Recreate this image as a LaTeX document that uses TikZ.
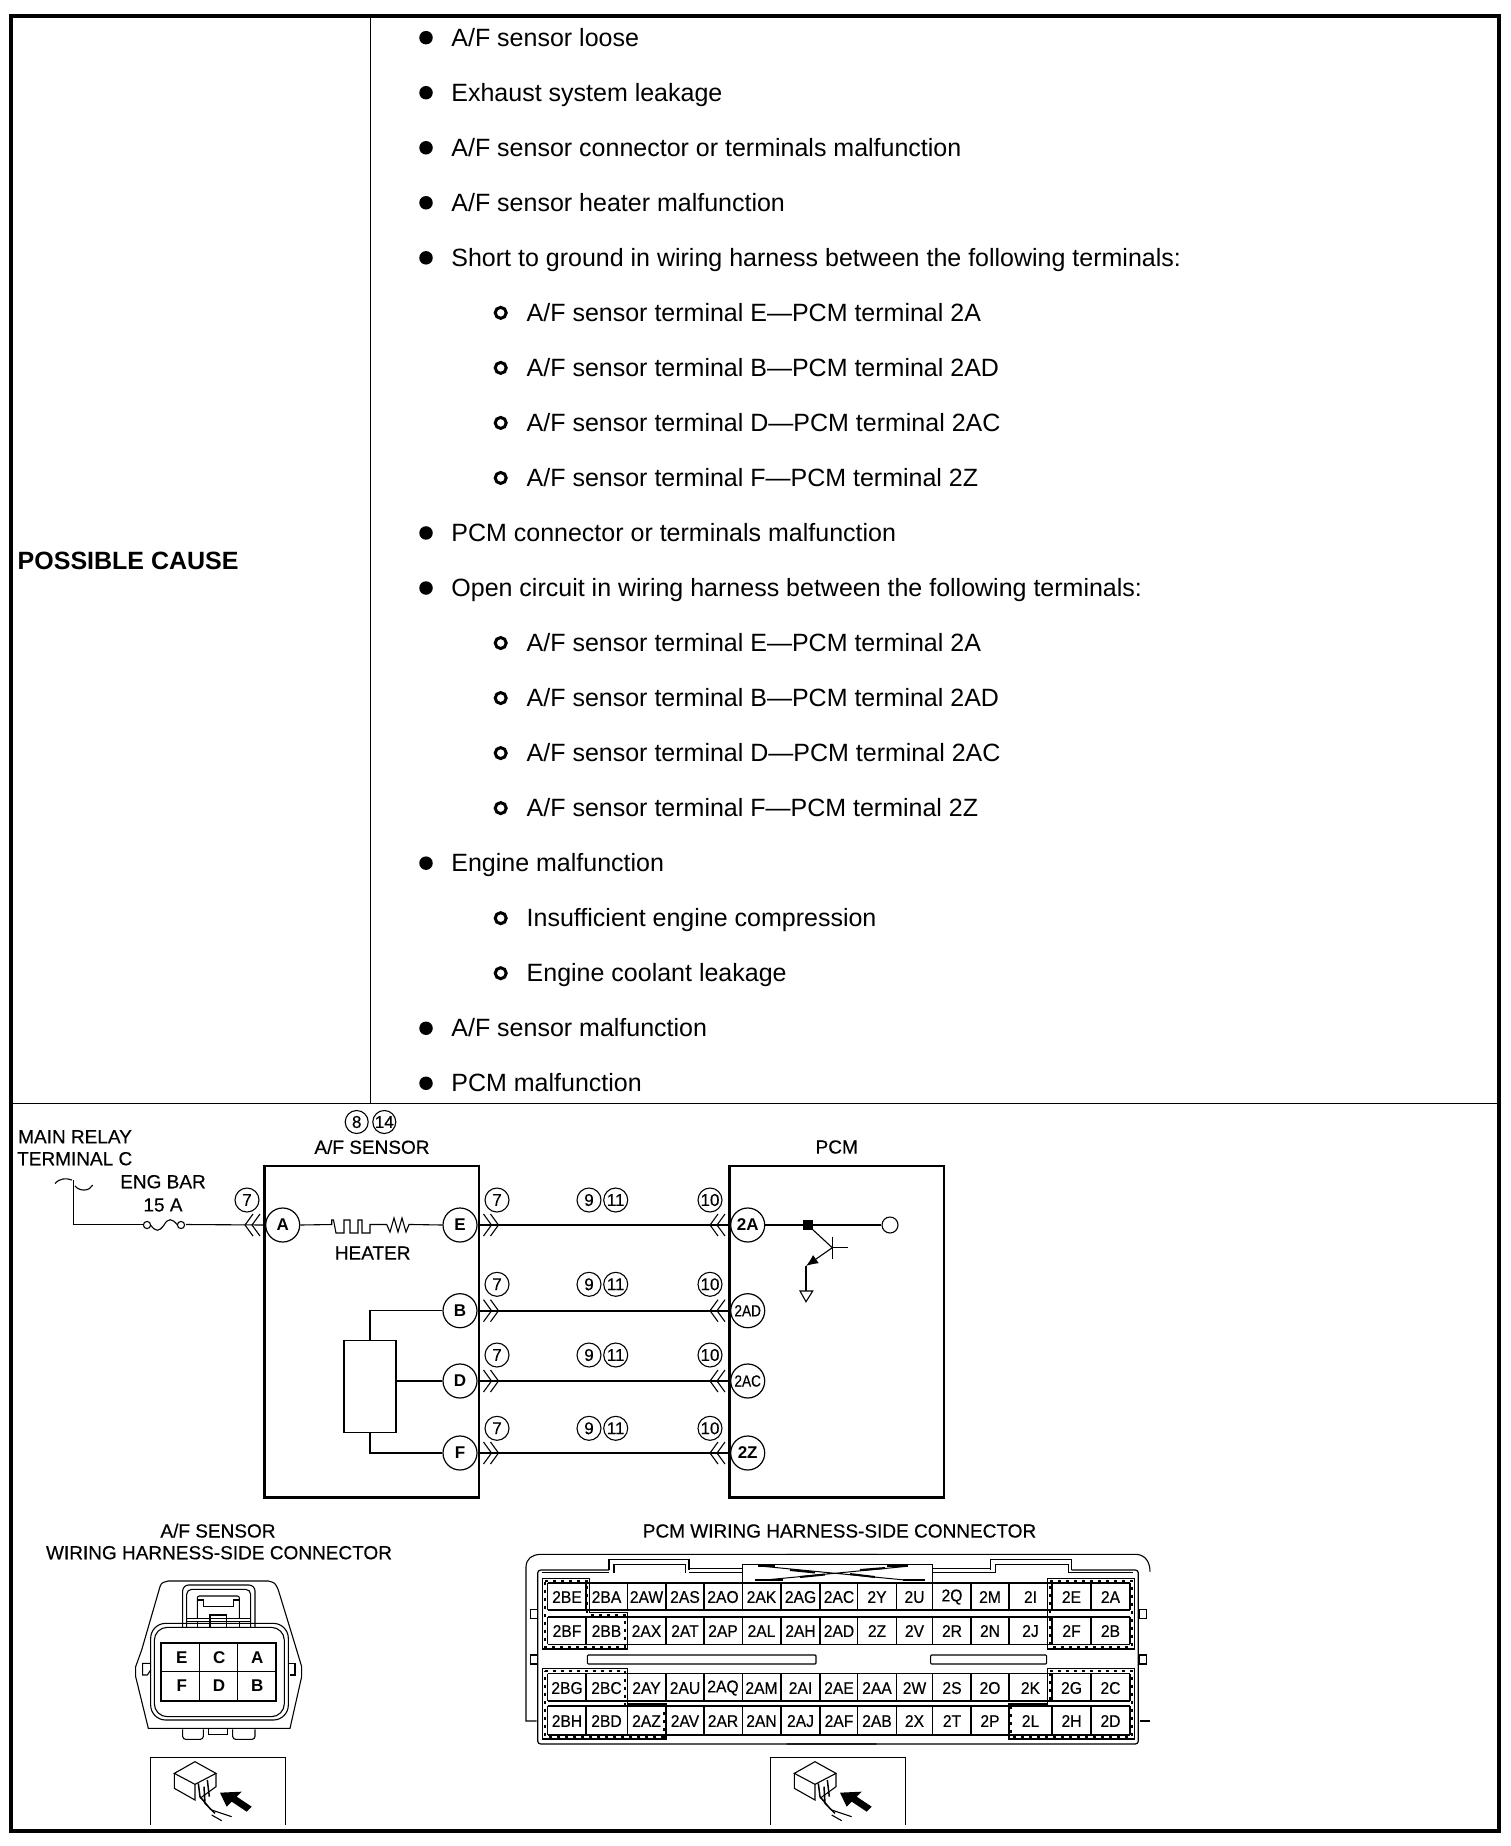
\documentclass[tikz,border=0pt]{standalone}
\usepackage{fontspec}
\setmainfont{Liberation Sans}
\newfontfamily\blurf[FakeBold=0.4]{Liberation Sans}
\usetikzlibrary{arrows.meta}
\newcommand{\fs}[1]{\fontsize{#1}{#1}\selectfont}
\newcommand{\AF}{A/F}
\newcommand{\chevL}[2]{\draw[wire] (#1+8,#2-11)--(#1,#2)--(#1+8,#2+11) (#1+15,#2-11)--(#1+7,#2)--(#1+15,#2+11);}
\newcommand{\chevR}[2]{\draw[wire] (#1-8,#2-11)--(#1,#2)--(#1-8,#2+11) (#1-15,#2-11)--(#1-7,#2)--(#1-15,#2+11);}
\tikzset{
  x=1pt,y=-1pt,
  frameline/.style={line width=4pt,black},
  rule/.style={line width=1pt,black},
  lbl/.style={anchor=base west,inner sep=0,font=\fs{25}},
  dotb/.style={circle,fill=black,inner sep=0,minimum size=13.5pt},
  ring/.style={circle,draw=black,line width=3pt,inner sep=0,minimum size=11pt},
  boxl/.style={line width=2.6pt,black},
  wire/.style={line width=1.1pt,black},
  hwire/.style={line width=1.7pt,black},
  pinc/.style={circle,draw=black,line width=1.2pt,inner sep=0,minimum size=34pt,fill=white,font=\fs{17}\bfseries},
  numc/.style={circle,draw=black,line width=1.1pt,inner sep=0,minimum size=24pt,fill=white,font=\fs{17}\blurf},
  captxt/.style={inner sep=0,font=\fs{19}\blurf},
  cell/.style={inner sep=0,font=\fs{17}\blurf,xscale=.92},
  zA/.style={x=.33333pt,y=-.33333pt,shift={(120pt,-1520pt)},line width=1.1pt},
  zB/.style={x=.33333pt,y=-.33333pt,shift={(510pt,-1520pt)},line width=1.1pt},
  zC/.style={x=.33333pt,y=-.33333pt,shift={(820pt,-1520pt)},line width=1.1pt},
  hatchA/.style={line width=2pt,dash pattern=on 3pt off 5pt},
  hatchB/.style={line width=1.3pt},
}
\begin{document}
\begin{tikzpicture}
\useasboundingbox (0,0) rectangle (1510,1846);
\fill[white] (0,0) rectangle (1510,1846);
% table
\draw[frameline] (10.7,16) rectangle (1499,1831);
\draw[rule] (370.5,16)--(370.5,1103.4);
\draw[rule] (10.7,1103.4)--(1499,1103.4);
\node[anchor=base west,inner sep=0,font=\fs{25}\bfseries] (pc) at (17.5,569.5) {POSSIBLE CAUSE};
% list
\foreach \n/\k/\t in {
 0/0/\AF{} sensor loose,
 1/0/Exhaust system leakage,
 2/0/\AF{} sensor connector or terminals malfunction,
 3/0/\AF{} sensor heater malfunction,
 4/0/Short to ground in wiring harness between the following terminals:,
 5/1/\AF{} sensor terminal E—PCM terminal 2A,
 6/1/\AF{} sensor terminal B—PCM terminal 2AD,
 7/1/\AF{} sensor terminal D—PCM terminal 2AC,
 8/1/\AF{} sensor terminal F—PCM terminal 2Z,
 9/0/PCM connector or terminals malfunction,
 10/0/Open circuit in wiring harness between the following terminals:,
 11/1/\AF{} sensor terminal E—PCM terminal 2A,
 12/1/\AF{} sensor terminal B—PCM terminal 2AD,
 13/1/\AF{} sensor terminal D—PCM terminal 2AC,
 14/1/\AF{} sensor terminal F—PCM terminal 2Z,
 15/0/Engine malfunction,
 16/1/Insufficient engine compression,
 17/1/Engine coolant leakage,
 18/0/\AF{} sensor malfunction,
 19/0/PCM malfunction}{
 \pgfmathsetmacro{\yy}{37.7+55.03*\n}
 \ifnum\k=0
   \node[dotb] (b\n) at (426,\yy) {};
   \node[lbl] (t\n) at (451.2,\yy+8.5) {\t};
 \else
   \node[ring] (b\n) at (500.7,\yy) {};
   \node[lbl] (t\n) at (526.5,\yy+8.5) {\t};
 \fi
}
% schematic boxes
\draw[boxl] (264.7,1166) rectangle (479,1497.7);
\draw[boxl] (729.3,1166) rectangle (944,1497.7);
\node[captxt] (afcap) at (372,1147) {A/F SENSOR};
\node[captxt] (pcmcap) at (836.7,1147) {PCM};
\node[numc,minimum size=23pt] (n8) at (356.7,1122) {8};
\node[numc,minimum size=23pt] (n14) at (384.3,1122) {14};
\node[captxt,anchor=west] (mr) at (18,1136.7) {MAIN RELAY};
\node[captxt,anchor=west] (tc) at (17,1158.7) {TERMINAL C};
\node[captxt] (eb) at (163,1181.7) {ENG BAR};
\node[captxt] (fa) at (163,1205) {15 A};
\node[captxt] (ht) at (372.7,1253) {HEATER};
% wires behind pins
\coordinate (relay) at (73.7,1180);
\coordinate (relayb) at (73.7,1224.5);
\coordinate (fl) at (143,1224.5);
\coordinate (fr) at (186,1224.5);
\node[pinc] (A) at (282.7,1225) {A};
\node[pinc] (E) at (460,1225) {E};
\node[pinc] (B) at (460,1310.7) {B};
\node[pinc] (D) at (460,1381) {D};
\node[pinc] (F) at (460,1453) {F};
\node[pinc] (P2A) at (747.7,1225) {2A};
\node[pinc,font=\fs{16}\blurf] (P2AD) at (747.7,1310.7) {\scalebox{.85}[1]{2AD}};
\node[pinc,font=\fs{16}\blurf] (P2AC) at (747.7,1381) {\scalebox{.85}[1]{2AC}};
\node[pinc] (P2Z) at (747.7,1453) {2Z};
% relay + fuse
\draw[wire] (55,1183.5) .. controls (60,1178) and (66,1178) .. (72,1180) (75,1186) .. controls (80,1192) and (90,1191) .. (92.7,1185);
\draw[wire] (relay)--(relayb)--(fl);
\draw[wire] (147,1225) circle (3.6) (181,1225) circle (3.6);
\draw[wire] (150.5,1225) .. controls (156,1232) and (159,1232) .. (164,1225) .. controls (168,1218) and (172,1218) .. (177.5,1225);
\draw[wire] (fr)--(A.west);
% heater
\coordinate (hA) at (331.7,1224.5);
\coordinate (hE) at (411.7,1224.5);
\draw[wire] (A.east)--(hA)--(331.7,1220)--(333.5,1220)--(336,1233)--(344,1233)--(344,1220)--(350,1220)--(350,1233)--(358,1233)--(358,1220)--(362,1220)--(362,1233)--(370,1233)--(370,1224.5)--(386.7,1224.5)--(390,1232)--(394,1218)--(398,1232)--(402,1218)--(406,1232)--(409,1224.5)--(hE)--(E.west);
% sensor
\node[draw=black,line width=1.3pt,minimum width=52pt,minimum height=92pt,inner sep=0] (sens) at (370,1386.7) {};
\draw[wire] (B.west)-|(sens.north);
\draw[wire] (D.west)--(D.west-|sens.east);
\draw[wire] (F.west)-|(sens.south);
% harness wires
\draw[wire] (E.east)--(P2A.west);
\draw[hwire] (B.east)--(P2AD.west);
\draw[hwire] (D.east)--(P2AC.west);
\draw[hwire] (F.east)--(P2Z.west);
\chevL{245}{1225}
\foreach \y in {1225,1310.7,1381,1453}{\chevR{498.5}{\y}\chevL{710}{\y}}
\node[numc] (c7a) at (247,1200) {7};
\foreach \i/\y in {1/1200,2/1284.3,3/1355,4/1428.3}{
 \node[numc] (c7\i) at (497,\y) {7};
 \node[numc] (c9\i) at (589,\y) {9};
 \node[numc] (c11\i) at (615.7,\y) {11};
 \node[numc] (c10\i) at (710,\y) {10};
}
% transistor
\coordinate (tj) at (807.7,1225);
\coordinate (tb) at (832.3,1247.7);
\coordinate (te) at (806,1266);
\coordinate (gnd) at (806,1291);
\coordinate (tout) at (847.7,1247.7);
\node[circle,draw=black,line width=1.1pt,inner sep=0,minimum size=16pt,fill=white] (tp) at (890,1225) {};
\draw[wire] (P2A.east)--(tp.west);
\fill (tj)++(-5,-5) rectangle ++(10,10);
\draw[wire] (tj)--(tb);
\draw[wire] (832.3,1236.7)--(832.3,1259.3) (tb)--(tout);
\draw[wire,-{Latex[length=12pt,width=10pt]}] (tb)--(te);
\draw[wire] (te)--(gnd);
\draw[wire] (800,1291)--(812.7,1291)--(806,1301.7)--cycle;
% A/F connector
\node[captxt] (ct1) at (218,1530.7) {A/F SENSOR};
\node[captxt] (ct2) at (219,1552.7) {WIRING HARNESS-SIDE CONNECTOR};
\begin{scope}[zA]
 \draw (120,200) .. controls (125,188) .. (145,183) -- (445,183) .. controls (465,188) .. (475,210) -- (530,390) -- (545,440) -- (545,470) -- (510,625) -- (85,625) -- (47,470) -- (47,440) -- (65,390) -- cycle;
 \draw[rounded corners=15pt] (92,310) rectangle (505,600);
 \draw[rounded corners=13pt] (103,322) rectangle (493,590);
 \draw (92,430)--(68,430)--(68,465)--(82,465) (82,465)--(92,450);
 \draw (505,430)--(525,430)--(525,465)--(510,465);
 \draw[rounded corners=6pt] (188,322)--(188,195)--(405,195)--(405,322);
 \draw[rounded corners=5pt] (200,322)--(200,208)--(392,208)--(392,322);
 \draw[rounded corners=2pt] (232,295)--(232,228)--(358,228)--(358,295);
 \draw (232,240)--(250,240)--(250,260)--(340,260)--(340,240)--(358,240);
 \draw (200,295)--(392,295) (200,305)--(392,305);
 \draw (270,322)--(270,285)--(320,285)--(320,322) (232,305)--(232,325) (358,305)--(358,325);
 \fill[white] (123,368) rectangle (467,543);
 \draw[line width=1.7pt] (123,368) rectangle (467,543);
 \draw[line width=1.3pt] (123,455)--(467,455) (238,368)--(238,543) (352,368)--(352,543);
 \draw[rounded corners=3pt] (188,628)--(188,658)--(250,658)--(250,628);
 \draw (265,628)--(265,643)--(322,643)--(322,628);
 \draw[rounded corners=3pt] (338,628)--(338,658)--(405,658)--(405,628);
\end{scope}
\foreach \nm/\x/\y in {E/181.7/1657.3,C/219.3/1657.3,A/257.3/1657.3,F/181.7/1686,D/219/1686,B/257.3/1686}{
  \node[inner sep=0,font=\fs{17}\bfseries] (k\nm) at (\x,\y) {\nm};
}
% view icons
\foreach \dx in {0,620}{
\begin{scope}[shift={(\dx pt,0pt)}]
\begin{scope}[zA]
 \draw[line width=1.5pt] (92,915)--(92,713)--(497,713)--(497,915);
 \draw (163,760)--(225,725)--(288,760)--(225,793)--cycle;
 \draw (163,760)--(163,805)--(225,840)--(225,793);
 \draw (288,760)--(288,800)--(240,835);
 \draw[line width=1.5pt] (235,790)--(240,830)--(272,868) (262,780)--(268,830) (252,800)--(255,850)--(285,880);
 \draw (275,870)--(335,890) (275,885)--(305,902);
 \fill (300,818)--(365,815)--(350,830)--(395,860)--(380,875)--(335,845)--(320,860)--cycle;
\end{scope}
\end{scope}
}
% PCM connector
\node[captxt] (ct3) at (839.5,1531) {PCM WIRING HARNESS-SIDE CONNECTOR};
\begin{scope}[zB]
 \draw (80,603)--(48,603)--(48,140) .. controls (50,115) and (65,105) .. (90,103) -- (1100,103);
 \draw[line width=1.2pt,rounded corners=3pt] (83,300)--(83,150)--(297,150) (83,300)--(83,672)--(1100,672);
 \draw (95,158)--(297,158);
 \draw (297,150)--(297,118)--(537,118)--(537,150) (312,158)--(312,133)--(527,133)--(527,158);
 \draw (537,145)--(697,145) (537,158)--(697,158);
 \draw (62,268) rectangle (83,295) (62,405) rectangle (83,432);
 \draw[rounded corners=1pt] (232,405) rectangle (918,432);
 \draw (697,133)--(697,185);
\end{scope}
\begin{scope}[zC]
 \draw (-100,103)--(950,103) .. controls (975,105) and (990,125) .. (990,155);
 \draw (960,603)--(990,603);
 \draw[rounded corners=3pt,line width=1.2pt] (-100,672)--(955,672)--(955,150)--(755,150);
 \draw (745,158)--(940,158);
 \draw (512,150)--(512,118)--(755,118)--(755,150) (527,158)--(527,133)--(745,133)--(745,158);
 \draw (337,145)--(512,145) (337,158)--(527,158);
 \draw (958,268) rectangle (980,295) (958,405) rectangle (980,432);
 \draw[rounded corners=1pt] (332,405) rectangle (680,432);
 \draw (337,133)--(337,185);
\end{scope}
% centre block with crossing lines
\draw[line width=1pt] (742.7,1564)--(932.3,1564);
\draw[line width=1pt] (742.7,1564)--(742.7,1581) (932.3,1564)--(932.3,1581);
\draw[line width=1pt] (765,1566.5)--(905,1580) (765,1580)--(905,1566.5);
\draw[line width=2pt] (758,1566)--(775,1566) (887,1566)--(908,1566) (755,1580)--(783,1580) (903,1580)--(925,1580);
\draw[line width=2pt] (790,1570)--(815,1572.5) (860,1570)--(885,1568) (800,1577)--(825,1574.5) (850,1574)--(875,1577);
% grid
\foreach \a/\b in {1583/1610,1617/1644.3,1673.5/1701,1706/1735}{
  \draw[line width=1.9pt] (547.7,\a)--(1130,\a);
  \draw[line width=1.3pt] (547.7,\b)--(1130,\b);
  \foreach \x in {547.7,627.3,666,704,742.3,781,820,857.7,896.7,932.7,971,1009,1052,1091,1130}{
     \draw[line width=1.1pt] (\x,\a)--(\x,\b);
  }
  \draw[line width=2.4pt] (586,\a)--(586,\b);
}
\def\cols{{567,606.5,646.5,685,723,761.5,800.5,839,877,914.5,952,990,1030.5,1071.5,1110.5}}
\newcommand{\cellrow}[3]{%
 \foreach \nm [count=\i from 0] in {#3}{
   \pgfmathsetmacro{\cx}{\cols[\i]}
   \node[cell] (cell#1\i) at (\cx,#2) {\nm};
 }}
\cellrow{a}{1597}{2BE,2BA,2AW,2AS,2AO,2AK,2AG,2AC,2Y,2U,2Q,2M,2I,2E,2A}
\cellrow{b}{1631}{2BF,2BB,2AX,2AT,2AP,2AL,2AH,2AD,2Z,2V,2R,2N,2J,2F,2B}
\cellrow{c}{1688}{2BG,2BC,2AY,2AU,2AQ,2AM,2AI,2AE,2AA,2W,2S,2O,2K,2G,2C}
\cellrow{d}{1721}{2BH,2BD,2AZ,2AV,2AR,2AN,2AJ,2AF,2AB,2X,2T,2P,2L,2H,2D}
% hatched frames: solid outline, dashes just inside
\begin{scope}[zB]
 \draw[hatchB] (98,175)--(238,175)--(238,278)--(352,278)--(352,387)--(98,387)--cycle;
 \draw[hatchA] (105,182)--(232,182)--(232,285)--(345,285)--(345,380)--(105,380)--cycle;
 \draw[hatchB] (98,445)--(352,445)--(352,552)--(468,552)--(468,657)--(98,657)--cycle;
 \draw[hatchA] (105,452)--(345,452)--(345,559)--(461,559)--(461,650)--(105,650)--cycle;
\end{scope}
\begin{scope}[zC]
 \draw[hatchB] (683,175)--(943,175)--(943,387)--(683,387)--cycle;
 \draw[hatchA] (690,182)--(936,182)--(936,380)--(690,380)--cycle;
 \draw[hatchB] (683,445)--(943,445)--(943,657)--(567,657)--(567,552)--(683,552)--cycle;
 \draw[hatchA] (690,452)--(936,452)--(936,650)--(574,650)--(574,559)--(690,559)--cycle;
\end{scope}
\end{tikzpicture}
\end{document}
